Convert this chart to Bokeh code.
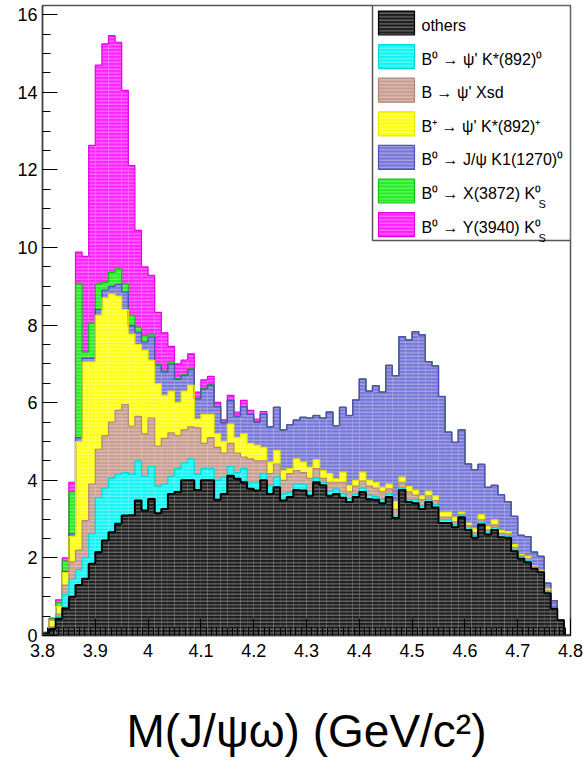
import numpy as np
from bokeh.plotting import figure
from bokeh.models import Range1d, FixedTicker, CustomJSTickFormatter
from bokeh.embed import file_html
from bokeh.resources import INLINE
from bokeh.core.properties import value

# ---------------- data (80 bins, 3.8 - 4.8 GeV/c^2) ----------------
x_min, x_max, n_bins = 3.8, 4.8, 80

others = [0.05, 0.17, 0.43, 0.70, 1.00, 1.30, 1.46, 1.85, 2.15, 2.45,
          2.66, 2.88, 3.09, 3.10, 3.48, 3.22, 3.52, 3.15, 3.26, 3.65,
          3.70, 4.00, 4.00, 3.75, 4.00, 4.00, 3.50, 3.65, 4.12, 4.04,
          3.95, 3.78, 3.74, 4.00, 3.65, 3.82, 3.48, 3.57, 3.75, 3.74,
          3.60, 3.95, 3.87, 3.60, 3.65, 3.55, 3.44, 3.57, 3.70, 3.51,
          3.50, 3.41, 3.57, 3.03, 3.75, 3.44, 3.41, 3.26, 3.44, 3.30,
          2.90, 2.90, 2.79, 3.05, 2.72, 2.52, 2.86, 2.60, 2.72, 2.53,
          2.52, 2.17, 1.98, 1.89, 1.72, 1.63, 1.09, 0.69, 0.39, 0.00]

b0_psi2s_kstar0 = [0.00, 0.03, 0.07, 0.35, 0.45, 0.40, 0.54, 0.77, 1.40, 1.35,
                   1.39, 1.27, 1.11, 1.05, 1.02, 0.88, 0.83, 0.70, 0.64, 0.45,
                   0.60, 0.45, 0.55, 0.40, 0.30, 0.30, 0.50, 0.43, 0.23, 0.16,
                   0.35, 0.17, 0.21, 0.17, 0.22, 0.26, 0.17, 0.12, 0.16, 0.16,
                   0.12, 0.10, 0.08, 0.12, 0.13, 0.11, 0.08, 0.08, 0.10, 0.11,
                   0.08, 0.09, 0.09, 0.05, 0.05, 0.06, 0.09, 0.07, 0.06, 0.08,
                   0.08, 0.08, 0.06, 0.05, 0.05, 0.06, 0.06, 0.06, 0.06, 0.06,
                   0.05, 0.05, 0.04, 0.04, 0.03, 0.02, 0.03, 0.00, 0.00, 0.00]

b_psi2s_xsd = [0.00, 0.02, 0.05, 0.25, 0.45, 0.50, 0.96, 1.28, 1.25, 1.35,
               1.45, 1.65, 1.75, 1.25, 1.15, 1.10, 1.25, 1.03, 1.18, 1.12,
               0.85, 0.85, 0.83, 1.20, 0.65, 0.80, 0.85, 0.62, 0.60, 0.50,
               0.30, 0.60, 0.55, 0.33, 0.30, 0.34, 0.35, 0.48, 0.34, 0.30,
               0.33, 0.25, 0.10, 0.23, 0.17, 0.29, 0.18, 0.20, 0.18, 0.23,
               0.22, 0.20, 0.12, 0.17, 0.15, 0.20, 0.12, 0.17, 0.10, 0.10,
               0.07, 0.07, 0.08, 0.02, 0.06, 0.07, 0.06, 0.06, 0.07, 0.05,
               0.05, 0.05, 0.03, 0.05, 0.02, 0.01, 0.03, 0.00, 0.00, 0.00]

bp_psi2s_kstarp = [0.00, 0.18, 0.20, 0.32, 0.65, 2.80, 4.09, 3.15, 3.45, 3.55,
                   3.30, 2.95, 2.45, 2.37, 1.85, 2.15, 1.49, 1.61, 1.11, 1.08,
                   0.85, 1.00, 1.07, 0.23, 0.75, 0.60, 0.35, 0.30, 0.50, 0.40,
                   0.60, 0.40, 0.40, 0.35, 0.30, 0.35, 0.25, 0.13, 0.30, 0.27,
                   0.29, 0.23, 0.20, 0.22, 0.09, 0.26, 0.17, 0.15, 0.23, 0.15,
                   0.15, 0.12, 0.12, 0.20, 0.13, 0.14, 0.12, 0.10, 0.12, 0.12,
                   0.13, 0.13, 0.12, 0.06, 0.07, 0.10, 0.13, 0.09, 0.13, 0.07,
                   0.06, 0.07, 0.04, 0.06, 0.03, 0.02, 0.05, 0.00, 0.00, 0.00]

b0_jpsi_k1 = [0.00, 0.00, 0.00, 0.03, 0.07, 0.10, 0.10, 0.10, 0.15, 0.20,
              0.20, 0.30, 0.45, 0.22, 0.32, 0.21, 0.60, 0.47, 0.60, 0.70,
              0.60, 0.40, 0.40, 0.52, 0.65, 0.75, 0.70, 0.48, 0.60, 0.55,
              0.70, 0.75, 0.60, 0.85, 0.91, 1.11, 1.05, 1.13, 1.00, 1.15,
              1.26, 1.14, 1.35, 1.59, 1.37, 1.67, 1.80, 2.07, 2.40, 2.30,
              2.49, 2.45, 3.06, 3.25, 3.62, 3.78, 4.09, 4.15, 3.34, 3.35,
              2.98, 2.06, 1.93, 2.12, 1.52, 1.52, 1.30, 1.01, 0.89, 0.92,
              0.77, 0.73, 0.49, 0.51, 0.35, 0.36, 0.15, 0.21, 0.01, 0.00]

b0_x3872_ks = [0.03, 0.03, 0.10, 0.27, 1.08, 3.96, 0.15, 0.90, 0.66, 0.20,
               0.36, 0.40, 0.21, 0.26, 0.13, 0.17, 0.06, 0.04, 0.03, 0.05,
               0.02, 0.02, 0.02, 0.02, 0.02, 0.02, 0.00, 0.00, 0.00, 0.00,
               0.00, 0.00, 0.00, 0.00, 0.00, 0.00, 0.00, 0.00, 0.00, 0.00,
               0.00, 0.00, 0.00, 0.00, 0.00, 0.00, 0.00, 0.00, 0.00, 0.00,
               0.00, 0.00, 0.00, 0.00, 0.00, 0.00, 0.00, 0.00, 0.00, 0.00,
               0.00, 0.00, 0.00, 0.00, 0.00, 0.00, 0.00, 0.00, 0.00, 0.00,
               0.00, 0.00, 0.00, 0.00, 0.00, 0.00, 0.00, 0.00, 0.00, 0.00]

b0_y3940_ks = [0.00, 0.02, 0.07, 0.08, 0.25, 0.82, 2.47, 4.58, 5.64, 6.15,
               6.10, 5.84, 4.99, 3.86, 2.49, 1.77, 1.53, 1.33, 0.98, 0.40,
               0.38, 0.38, 0.39, 0.15, 0.22, 0.21, 0.11, 0.08, 0.14, 0.11,
               0.16, 0.10, 0.08, 0.07, 0.00, 0.00, 0.00, 0.00, 0.00, 0.00,
               0.00, 0.00, 0.00, 0.00, 0.00, 0.00, 0.00, 0.00, 0.00, 0.00,
               0.00, 0.00, 0.00, 0.00, 0.00, 0.00, 0.00, 0.00, 0.00, 0.00,
               0.00, 0.00, 0.00, 0.00, 0.00, 0.00, 0.00, 0.00, 0.00, 0.00,
               0.00, 0.00, 0.00, 0.00, 0.00, 0.00, 0.00, 0.00, 0.00, 0.00]

legend_labels = ["others",
                 "B\u2070 \u2192 \u03c8' K*(892)\u2070",
                 "B \u2192 \u03c8' Xsd",
                 "B\u207a \u2192 \u03c8' K*(892)\u207a",
                 "B\u2070 \u2192 J/\u03c8 K1(1270)\u2070",
                 "B\u2070 \u2192 X(3872) K\u2070",
                 "B\u2070 \u2192 Y(3940) K\u2070"]

x_ticks = [3.8, 3.9, 4.0, 4.1, 4.2, 4.3, 4.4, 4.5, 4.6, 4.7, 4.8]
y_ticks = [0, 2, 4, 6, 8, 10, 12, 14, 16]

# ---------------- styles ----------------
series = [others, b0_psi2s_kstar0, b_psi2s_xsd, bp_psi2s_kstarp,
          b0_jpsi_k1, b0_x3872_ks, b0_y3940_ks]
fills = ["#1c1c1c", "#10f4f4", "#c99c8f", "#ffff10", "#7676d8", "#22ee22", "#ff20ff"]
lines = ["#000000", "#00d8d8", "#b08878", "#e6e600", "#5050b8", "#10c010", "#e000e0"]
widths = [2.0, 1.2, 1.2, 1.2, 1.3, 1.2, 1.2]
hatch = dict(hatch_pattern="-", hatch_color="white", hatch_alpha=0.45,
             hatch_scale=3.5, hatch_weight=1.0)

# frame: x 42..570, y 5..635 px; 38.8 px per unit on the y axis
Y_MAX = (635 - 5) / 38.8
p = figure(width=583, height=765, output_backend="svg", toolbar_location=None,
           x_range=Range1d(x_min, x_max), y_range=Range1d(0, Y_MAX),
           min_border_left=42, min_border_right=13, min_border_top=5,
           min_border_bottom=130, background_fill_color="white",
           border_fill_color="white")
p.xgrid.visible = False
p.ygrid.visible = False

edges = np.linspace(x_min, x_max, n_bins + 1)
left, right = edges[:-1], edges[1:]
bottom = np.zeros(n_bins)
tops = []
for vals, fc in zip(series, fills):
    top = bottom + np.array(vals)
    p.quad(left=left, right=right, bottom=bottom, top=top,
           fill_color=fc, line_color=None, **hatch)
    tops.append(top)
    bottom = top

# outlines drawn from the top of the stack downward (ROOT style)
step_x = np.append(left, right[-1])
for top, lc, lw in reversed(list(zip(tops, lines, widths))):
    p.step(x=step_x, y=np.append(top, top[-1]), mode="after",
           line_color=lc, line_width=lw)

# ---------------- legend (drawn inside the frame) ----------------
def px_x(px):
    return x_min + (px - 42) / 528 * (x_max - x_min)

def px_y(py):
    return (635 - py) / 38.8

p.quad(left=[px_x(372)], right=[x_max], bottom=[px_y(240)], top=[Y_MAX],
       fill_color="white", line_color="#555555", line_width=1.5)
row_c = [22.5 + 33.6 * i for i in range(7)]
p.quad(left=[px_x(378)] * 7, right=[px_x(414)] * 7,
       bottom=[px_y(c + 12) for c in row_c], top=[px_y(c - 12) for c in row_c],
       fill_color=fills, line_color=lines, line_width=1.2, **hatch)
p.text(x=[px_x(421)] * 7, y=[px_y(c + 2.5) for c in row_c], text=legend_labels,
       text_font=value("Liberation Sans"), text_font_size="16px",
       text_baseline="middle", text_align="left", text_color="black")
p.text(x=[px_x(538)] * 2, y=[px_y(row_c[5] + 13), px_y(row_c[6] + 13)],
       text=["S", "S"], text_font=value("Liberation Sans"), text_font_size="11px",
       text_baseline="middle", text_align="left", text_color="black")

# ---------------- axes ----------------
p.xaxis.ticker = FixedTicker(ticks=x_ticks,
                             minor_ticks=[round(x_min + 0.01 * i, 2) for i in range(101)])
p.xaxis.formatter = CustomJSTickFormatter(
    code="return Math.abs(tick - Math.round(tick)) < 1e-6 ? tick.toFixed(0) : tick.toFixed(1);")
p.yaxis.ticker = FixedTicker(ticks=y_ticks, minor_ticks=[0.5 * i for i in range(33)])

for ax in (p.xaxis[0], p.yaxis[0]):
    ax.major_tick_out = 0
    ax.minor_tick_out = 0
    ax.axis_line_color = "#444444"
    ax.axis_line_width = 1.5
    ax.major_tick_line_color = "black"
    ax.minor_tick_line_color = "black"
    ax.major_label_text_font = "Liberation Sans"
    ax.major_label_text_font_size = "18px"
    ax.major_label_text_color = "black"
p.xaxis.major_tick_in = 17
p.xaxis.minor_tick_in = 8
p.yaxis.major_tick_in = 15
p.yaxis.minor_tick_in = 8
p.xaxis.major_label_standoff = 8
p.yaxis.major_label_standoff = 5

p.xaxis.axis_label = "M(J/\u03c8\u03c9) (GeV/c\u00b2)"
p.xaxis.axis_label_text_font = "Liberation Sans"
p.xaxis.axis_label_text_font_size = "46px"
p.xaxis.axis_label_text_font_style = "normal"
p.xaxis.axis_label_text_color = "black"
p.xaxis.axis_label_standoff = 45

p.outline_line_color = "#555555"
p.outline_line_width = 1.5

open("out.html", "w").write(file_html(p, INLINE))
